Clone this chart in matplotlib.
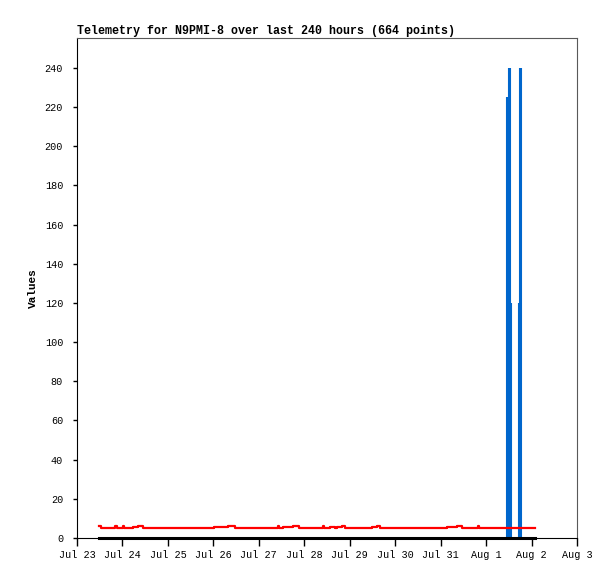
#!/usr/bin/env python3
"""Telemetry plot for N9PMI-8, gnuplot style."""

import matplotlib

matplotlib.use("Agg")
import matplotlib.pyplot as plt
import numpy as np

# time axis in days since Jul 23 00:00
DAY_LABELS = ["Jul 23", "Jul 24", "Jul 25", "Jul 26", "Jul 27", "Jul 28",
              "Jul 29", "Jul 30", "Jul 31", "Aug 1", "Aug 2", "Aug 3"]
Y_TICKS = list(range(0, 241, 20))

# red channel (step values)
RED_T = [0.49, 0.53, 0.84, 0.88, 1.005, 1.035, 1.23, 1.34, 1.45, 3.01, 3.32,
         3.48, 4.42, 4.44, 4.53, 4.75, 4.88, 5.41, 5.44, 5.57, 5.68, 5.72,
         5.82, 5.90, 6.49, 6.60, 6.67, 8.14, 8.36, 8.47, 8.82, 8.84, 10.08]
RED_V = [6, 5, 6, 5, 6, 5, 5.5, 6, 5, 5.5, 6,
         5, 6, 5, 5.5, 6, 5, 6, 5, 5.5, 5, 5.5,
         6, 5, 5.5, 6, 5, 5.5, 6, 5, 6, 5, 5]

# black channel (flat at zero)
BLACK_T = [0.49, 10.08]
BLACK_V = [0, 0]

# blue channel (impulses)
BLUE_T = [9.449, 9.471, 9.493, 9.515, 9.537, 9.713, 9.735, 9.757]
BLUE_V = [225, 225, 240, 240, 120, 120, 240, 240]

MONO = ["Liberation Mono", "DejaVu Sans Mono"]

fig = plt.figure(figsize=(6.15, 5.79), dpi=100)
ax = fig.add_axes([77 / 615, 41 / 579, 500 / 615, 500 / 579])

ax.vlines(BLUE_T, 0, BLUE_V, color="#0066cc", linewidth=1.5, zorder=3)
ax.step(RED_T, RED_V, where="post", color="#ff0000", linewidth=1.6, zorder=4)
ax.plot(BLACK_T, BLACK_V, color="black", linewidth=2.2, clip_on=False, zorder=5)

ax.set_xlim(0, 11)
ax.set_ylim(0, 255.3)
ax.set_xticks(np.arange(len(DAY_LABELS)))
ax.set_xticklabels(DAY_LABELS, fontfamily=MONO, fontsize=7.3)
ax.set_yticks(Y_TICKS)
ax.set_yticklabels([str(v) for v in Y_TICKS], fontfamily=MONO, fontsize=7.3)
ax.tick_params(axis="x", direction="out", length=6, width=1, pad=3)
ax.tick_params(axis="y", direction="out", length=3, width=1, pad=7)

for side in ("top", "right"):
    ax.spines[side].set_color("0.35")
for side in ("left", "bottom"):
    ax.spines[side].set_color("black")

ax.set_ylabel("Values", fontfamily=MONO, fontsize=8, fontweight="bold", labelpad=5)
ax.set_title("Telemetry for N9PMI-8 over last 240 hours (664 points)",
             fontfamily=MONO, fontsize=8.4, fontweight="bold", loc="left", pad=3)

fig.savefig("out.png", dpi=100)
